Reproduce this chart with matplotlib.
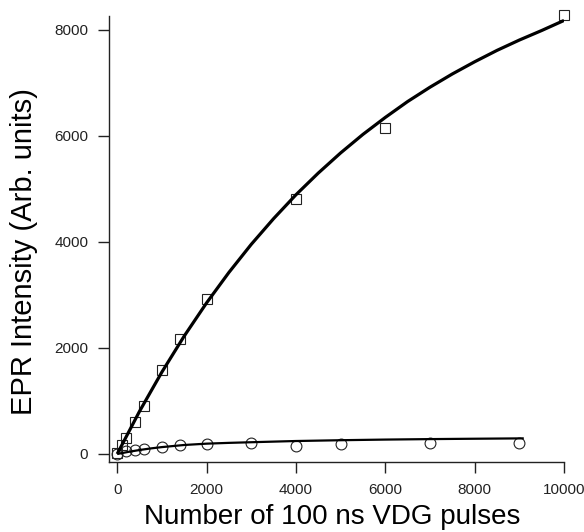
import matplotlib
matplotlib.use("Agg")
import matplotlib.pyplot as plt

# --- data ---
sq_x = [0, 100, 200, 400, 600, 1000, 1400, 2000, 4000, 6000, 10000]
sq_y = [15, 170, 300, 610, 900, 1585, 2165, 2925, 4810, 6150, 8280]

ci_x = [0, 200, 400, 600, 1000, 1400, 2000, 3000, 4000, 5000, 7000, 9000]
ci_y = [5, 55, 75, 95, 135, 165, 185, 200, 160, 195, 200, 200]

# fitted curves
fit_sq_x = [0, 500, 1000, 1500, 2000, 2500, 3000, 3500, 4000, 4500, 5000,
            5500, 6000, 6500, 7000, 7500, 8000, 8500, 9000, 9500, 10000]
fit_sq_y = [0, 805, 1545, 2225, 2850, 3425, 3955, 4440, 4890, 5300, 5680,
            6030, 6350, 6650, 6920, 7170, 7400, 7615, 7810, 7990, 8180]

fit_ci_x = [0, 250, 500, 750, 1000, 1500, 2000, 2500, 3000, 4000, 5000,
            6000, 7000, 8000, 9100]
fit_ci_y = [0, 40, 75, 105, 130, 170, 195, 210, 222, 245, 260,
            272, 281, 288, 295]

x_ticks = [0, 2000, 4000, 6000, 8000, 10000]
y_ticks = [0, 2000, 4000, 6000, 8000]

x_label = "Number of 100 ns VDG pulses"
y_label = "EPR Intensity (Arb. units)"

plt.rcParams['font.family'] = ['Liberation Sans', 'DejaVu Sans']

W, H = 584, 532
fig = plt.figure(figsize=(W / 100, H / 100), dpi=100)
ax = fig.add_axes([109 / W, (H - 462) / H, 455 / W, 446 / H])

ax.plot(fit_sq_x, fit_sq_y, color='black', lw=2.3, solid_capstyle='butt', zorder=3)
ax.plot(fit_ci_x, fit_ci_y, color='black', lw=1.6, solid_capstyle='butt', zorder=3)
ax.plot(sq_x, sq_y, ls='none', marker='s', ms=7.5, mfc='none', mec='#222222', mew=0.8,
        zorder=2, clip_on=False)
ax.plot(ci_x, ci_y, ls='none', marker='o', ms=7.8, mfc='none', mec='#222222', mew=0.8,
        zorder=2, clip_on=False)

ax.set_xlim(-183, 10000)
ax.set_ylim(-151, 8264)
ax.set_xticks(x_ticks)
ax.set_yticks(y_ticks)
ax.tick_params(direction='out', length=8, width=1.0, labelsize=11, pad=7, colors='#222222')
for s in ['top', 'right']:
    ax.spines[s].set_visible(False)
for s in ['left', 'bottom']:
    ax.spines[s].set_linewidth(1.0)
    ax.spines[s].set_color('#222222')

ax.set_xlabel(x_label, fontsize=20)
ax.set_ylabel(y_label, fontsize=21)
ax.xaxis.set_label_coords(0.49, -0.095)
ax.yaxis.set_label_coords(-0.155, 0.471)

fig.savefig("out.png", dpi=100)
